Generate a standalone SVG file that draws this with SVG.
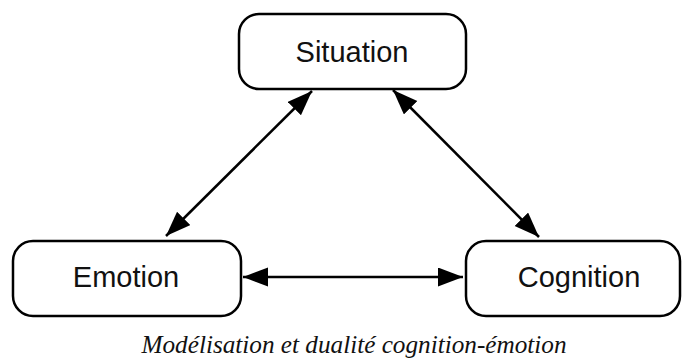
<svg xmlns="http://www.w3.org/2000/svg" width="682" height="363" viewBox="0 0 682 363">
  <style>
    .box { fill: #ffffff; stroke: #000000; stroke-width: 2.5; }
    .label { font-family: "Liberation Sans", Arial, Helvetica, sans-serif; font-size: 29px; fill: #111111; text-anchor: middle; }
    .link { stroke: #000000; stroke-width: 2.5; fill: none; marker-start: url(#head); marker-end: url(#head); }
    .caption { font-family: "Liberation Serif", "Times New Roman", serif; font-style: italic; font-size: 25px; fill: #111111; text-anchor: middle; }
  </style>
  <defs>
    <marker id="head" markerUnits="userSpaceOnUse" markerWidth="26" markerHeight="20" refX="25" refY="9.5" orient="auto-start-reverse">
      <path d="M0,0 L25,9.5 L0,19 Z" fill="#000000"/>
    </marker>
  </defs>
  <rect width="682" height="363" fill="#ffffff"/>

  <g id="connectors">
    <line class="link" x1="312" y1="91" x2="166" y2="236"/>
    <line class="link" x1="393" y1="90" x2="539" y2="237"/>
    <line class="link" x1="243" y1="277" x2="463" y2="277"/>
  </g>

  <g id="situation">
    <rect class="box" x="239" y="14" width="227" height="75" rx="20" ry="20"/>
    <text class="label" x="352" y="62">Situation</text>
  </g>

  <g id="emotion">
    <rect class="box" x="13" y="241" width="228" height="75" rx="20" ry="20"/>
    <text class="label" x="126" y="287">Emotion</text>
  </g>

  <g id="cognition">
    <rect class="box" x="466" y="241" width="214" height="75" rx="20" ry="20"/>
    <text class="label" x="579" y="287">Cognition</text>
  </g>

  <text class="caption" x="354" y="353" textLength="425" lengthAdjust="spacingAndGlyphs">Modélisation et dualité cognition-émotion</text>
</svg>
